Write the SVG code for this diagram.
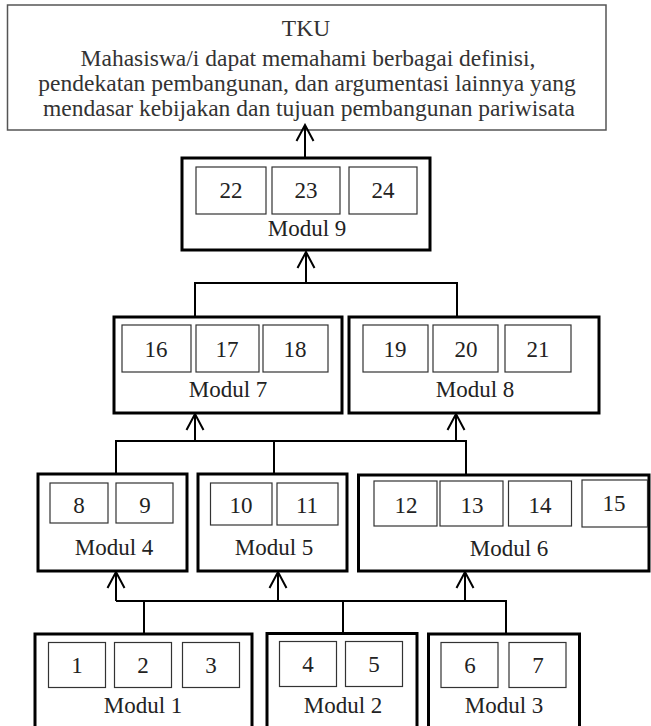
<svg xmlns="http://www.w3.org/2000/svg" width="651" height="726" viewBox="0 0 651 726">
<defs>
<style>
.outer{fill:#fff;stroke:#000;stroke-width:3}
.inner{fill:#fff;stroke:#333;stroke-width:1.2}
.tku{fill:#fff;stroke:#555;stroke-width:1.5}
.t{font-family:"Liberation Serif","Times New Roman",serif;font-size:23px;fill:#222;text-anchor:middle}
.tk{font-family:"Liberation Serif","Times New Roman",serif;font-size:23.5px;fill:#333;text-anchor:middle}
.conn{fill:none;stroke:#000;stroke-width:2}
</style>
<marker id="arr" markerUnits="userSpaceOnUse" viewBox="-18 -10 20 20" refX="0" refY="0" markerWidth="20" markerHeight="20" orient="auto">
<path d="M-16,-8.5 L0,0 L-16,8.5" fill="none" stroke="#000" stroke-width="2"/>
</marker>
</defs>
<rect width="651" height="726" fill="#fff"/>

<g id="tku">
<rect class="tku" x="7.5" y="5" width="598.5" height="125"/>
<text class="tk" x="306" y="36">TKU</text>
<text class="tk" x="308" y="66">Mahasiswa/i dapat memahami berbagai definisi,</text>
<text class="tk" x="307" y="91">pendekatan pembangunan, dan argumentasi lainnya yang</text>
<text class="tk" x="309" y="116">mendasar kebijakan dan tujuan pembangunan pariwisata</text>
</g>

<g id="connectors">
<path class="conn" d="M305,157 V125" marker-end="url(#arr)"/>
<path class="conn" d="M306,283 V252" marker-end="url(#arr)"/>
<path class="conn" d="M195,283 H457 M195,282 V316 M457,282 V316"/>
<path class="conn" d="M195,441 V414" marker-end="url(#arr)"/>
<path class="conn" d="M456,441 V414" marker-end="url(#arr)"/>
<path class="conn" d="M116,441 H466 M116,440 V474 M274,441 V474 M466,440 V474"/>
<path class="conn" d="M116,601 V572" marker-end="url(#arr)"/>
<path class="conn" d="M278,601 V572" marker-end="url(#arr)"/>
<path class="conn" d="M465,601 V572" marker-end="url(#arr)"/>
<path class="conn" d="M116,601 H506 M144,601 V634 M343,601 V634 M506,600 V634"/>
</g>

<g id="modul9">
<rect class="outer" x="182" y="158" width="248" height="92"/>
<rect class="inner" x="196" y="167" width="70" height="47"/><text class="t" x="231" y="198">22</text>
<rect class="inner" x="272" y="167" width="68" height="47"/><text class="t" x="306" y="198">23</text>
<rect class="inner" x="349" y="167" width="68" height="47"/><text class="t" x="383" y="198">24</text>
<text class="t" x="307" y="236">Modul 9</text>
</g>

<g id="modul7">
<rect class="outer" x="114" y="317" width="228" height="96"/>
<rect class="inner" x="122" y="325" width="69" height="47"/><text class="t" x="156" y="357">16</text>
<rect class="inner" x="196" y="325" width="63" height="47"/><text class="t" x="227" y="357">17</text>
<rect class="inner" x="263" y="325" width="65" height="47"/><text class="t" x="295" y="357">18</text>
<text class="t" x="228" y="397">Modul 7</text>
</g>

<g id="modul8">
<rect class="outer" x="349" y="317" width="250" height="96"/>
<rect class="inner" x="363" y="325" width="65" height="47"/><text class="t" x="395" y="357">19</text>
<rect class="inner" x="433" y="325" width="65" height="47"/><text class="t" x="466" y="357">20</text>
<rect class="inner" x="505" y="325" width="66" height="47"/><text class="t" x="538" y="357">21</text>
<text class="t" x="475" y="397">Modul 8</text>
</g>

<g id="modul4">
<rect class="outer" x="38" y="474" width="149" height="97"/>
<rect class="inner" x="50" y="483" width="58" height="40"/><text class="t" x="79" y="513">8</text>
<rect class="inner" x="116" y="483" width="57" height="40"/><text class="t" x="145" y="513">9</text>
<text class="t" x="114" y="555">Modul 4</text>
</g>

<g id="modul5">
<rect class="outer" x="198" y="474" width="149" height="97"/>
<rect class="inner" x="210.5" y="483" width="61.5" height="42"/><text class="t" x="241" y="513">10</text>
<rect class="inner" x="277" y="483" width="61" height="42"/><text class="t" x="307" y="513">11</text>
<text class="t" x="274" y="555">Modul 5</text>
</g>

<g id="modul6">
<rect class="outer" x="358.5" y="475" width="290.5" height="96"/>
<rect class="inner" x="374" y="481" width="63" height="45"/><text class="t" x="406" y="513">12</text>
<rect class="inner" x="440" y="481" width="63" height="45"/><text class="t" x="472" y="513">13</text>
<rect class="inner" x="508.5" y="481" width="63" height="45"/><text class="t" x="540" y="513">14</text>
<rect class="inner" x="582" y="480" width="65.5" height="47"/><text class="t" x="614" y="511">15</text>
<text class="t" x="509" y="556">Modul 6</text>
</g>

<g id="modul1">
<rect class="outer" x="35" y="634" width="217" height="100"/>
<rect class="inner" x="48.5" y="642.5" width="57" height="45"/><text class="t" x="77" y="673">1</text>
<rect class="inner" x="114.5" y="642.5" width="57" height="45"/><text class="t" x="143" y="673">2</text>
<rect class="inner" x="182.5" y="642.5" width="57" height="45"/><text class="t" x="211" y="673">3</text>
<text class="t" x="143" y="713">Modul 1</text>
</g>

<g id="modul2">
<rect class="outer" x="267" y="633.5" width="150" height="100"/>
<rect class="inner" x="279.5" y="641.5" width="57" height="45"/><text class="t" x="308" y="672">4</text>
<rect class="inner" x="345.5" y="641.5" width="57" height="45"/><text class="t" x="374" y="672">5</text>
<text class="t" x="343" y="713">Modul 2</text>
</g>

<g id="modul3">
<rect class="outer" x="428.5" y="634" width="151" height="100"/>
<rect class="inner" x="441" y="642.5" width="57" height="45"/><text class="t" x="470" y="673">6</text>
<rect class="inner" x="509" y="642.5" width="57" height="45"/><text class="t" x="538" y="673">7</text>
<text class="t" x="504" y="713">Modul 3</text>
</g>
</svg>
